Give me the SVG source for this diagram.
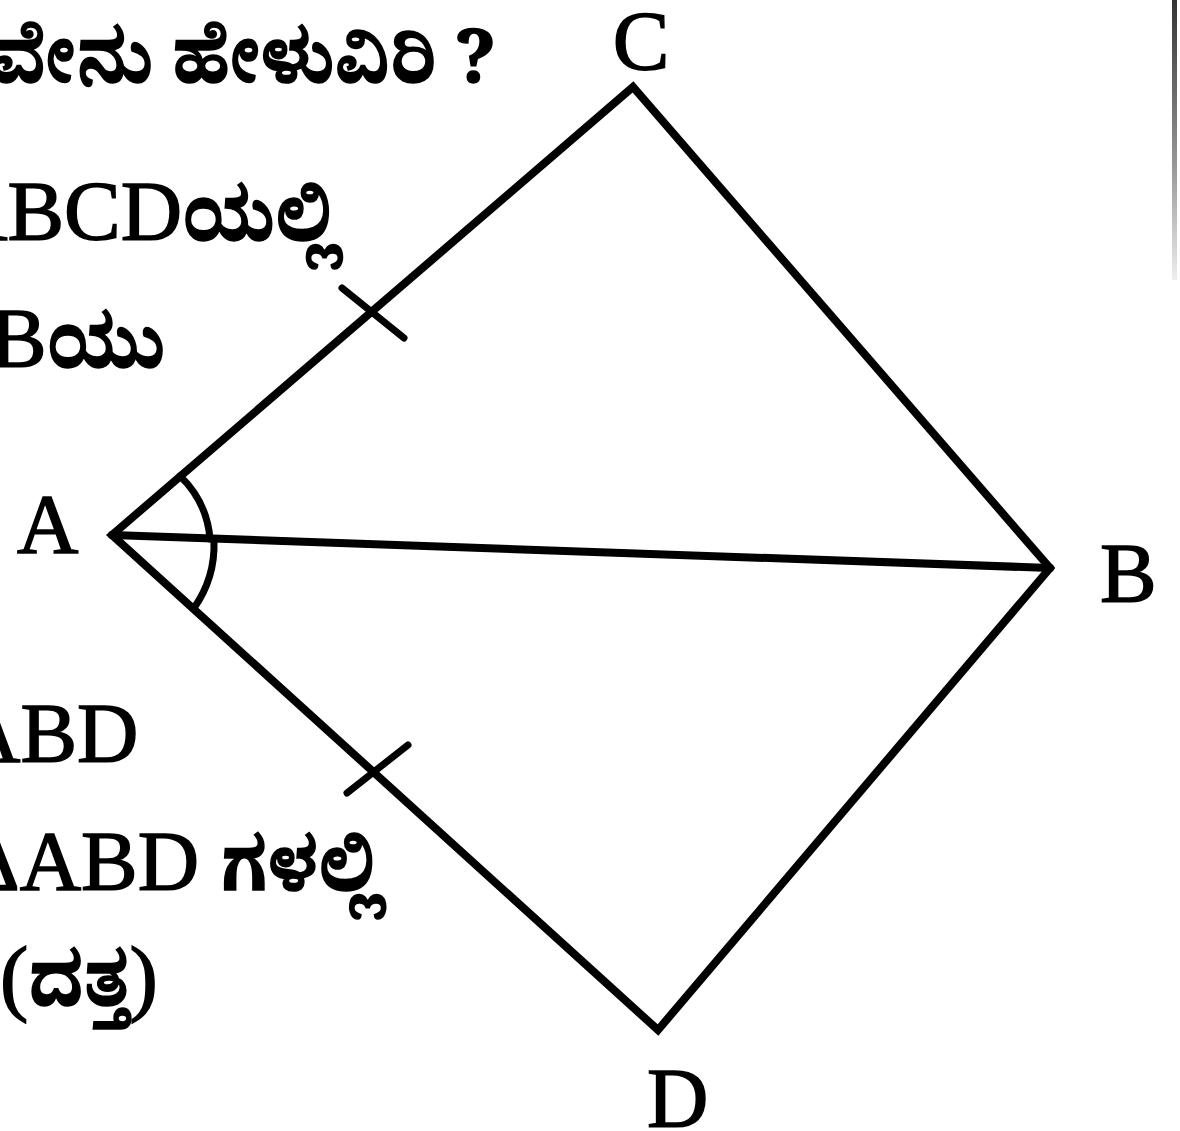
<svg xmlns="http://www.w3.org/2000/svg" width="1180" height="1131" viewBox="0 0 1180 1131">
<defs>
<style>
.edge{fill:none;stroke:#000;stroke-width:8;stroke-linejoin:miter;stroke-linecap:round}
.mark{fill:none;stroke:#000;stroke-width:7;stroke-linecap:round}
.lbl{font-family:"Liberation Serif",serif;font-size:85px;fill:#000;stroke:#000;stroke-width:1.5}
.txt{font-family:"Liberation Serif","Noto Serif Kannada","Noto Sans Kannada","Noto Sans",serif;font-size:85px;fill:#000;stroke:#000;stroke-width:1.5}
.kn{font-family:"Noto Serif Kannada","Noto Sans Kannada","Noto Sans",sans-serif;font-size:74px;font-weight:bold}
</style>
<linearGradient id="fade" x1="0" y1="0" x2="0" y2="1">
<stop offset="0" stop-color="#333"/>
<stop offset="0.6" stop-color="#999"/>
<stop offset="1" stop-color="#eee"/>
</linearGradient>
</defs>
<rect width="1180" height="1131" fill="#fff"/>
<rect x="1172" y="0" width="5" height="280" fill="url(#fade)"/>
<g id="text">
<text class="txt" x="-10" y="82"><tspan class="kn">ವೇನು ಹೇಳುವಿರಿ ?</tspan></text>
<text class="txt" x="-54" y="240">ABCD<tspan class="kn">ಯಲ್ಲಿ</tspan></text>
<text class="txt" x="-10" y="367">B<tspan class="kn">ಯು</tspan></text>
<text class="txt" x="-41" y="762">ABD</text>
<text class="txt" x="-35" y="890">ΔABD <tspan class="kn">ಗಳಲ್ಲಿ</tspan></text>
<text class="txt" x="0" y="1005">(<tspan class="kn">ದತ್ತ</tspan>)</text>
</g>
<g id="connectors">
<path class="edge" d="M112,535 L633,87 L1050,568 L658,1030 Z"/>
<path class="edge" d="M112,535 L1050,568"/>
<path class="mark" d="M180,476 A98,98 0 0 1 210,539"/>
<path class="mark" d="M214,541 A110,110 0 0 1 194,608"/>
<path class="mark" d="M342,288 L404,338"/>
<path class="mark" d="M408,745 L347,793"/>
</g>
<g id="node-C"><text class="lbl" x="641" y="70" text-anchor="middle">C</text></g>
<g id="node-A"><text class="lbl" x="17" y="553">A</text></g>
<g id="node-B"><text class="lbl" x="1100" y="602">B</text></g>
<g id="node-D"><text class="lbl" x="647" y="1127">D</text></g>
</svg>
